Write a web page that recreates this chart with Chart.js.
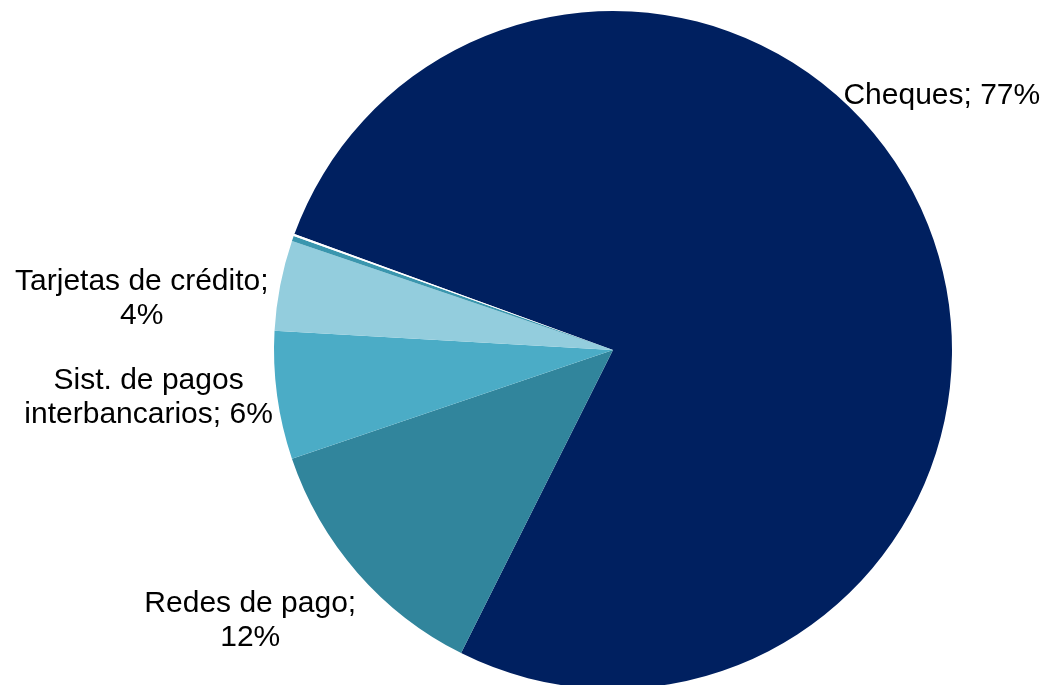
<!DOCTYPE html>
<html>
<head>
<meta charset="utf-8">
<script src="https://cdn.jsdelivr.net/npm/chart.js@4/dist/chart.umd.min.js"></script>
<style>
    html, body { margin: 0; padding: 0; background: #ffffff; }
    #wrap { width: 1047px; height: 685px; overflow: hidden; position: relative; }
    #wrap canvas { display: block; }
</style>
</head>
<body>
<div id="wrap"><canvas id="chart" width="1047" height="700"></canvas></div>
<script>
/* ---------- data ---------- */
const categories = ["Cheques", "Redes de pago", "Sist. de pagos interbancarios", "Tarjetas de crédito", "Otros", "Otros (2)"];
const shares     = [76.8, 12.4, 6.1, 4.3, 0.25, 0.1];
const colors     = ["#002060", "#31859C", "#4BACC6", "#93CDDD", "#3A96AE", "#FFFFFF"];
// texto de cada etiqueta, ya partido en líneas (null = sin etiqueta)
const labelLines = [
    ["Cheques; 77%"],
    ["Redes de pago;", "12%"],
    ["Sist. de pagos", "interbancarios; 6%"],
    ["Tarjetas de crédito;", "4%"],
    null,
    null
];

/* ---------- label placement (relative to pie centre, in radii) ---------- */
const labelOffsets = [
    [0.97, -0.75],
    [-1.07, 0.80],
    [-1.37, 0.14],
    [-1.39, -0.15],
    null,
    null
];

const FONT = '30px "Liberation Sans", Arial, sans-serif';
const LINE_H = 34;

const sliceLabels = {
    id: "sliceLabels",
    afterDatasetsDraw(chart) {
        const ctx  = chart.ctx;
        const arcs = chart.getDatasetMeta(0).data;
        ctx.save();
        ctx.font = FONT;
        ctx.fillStyle = "#000000";
        ctx.textAlign = "center";
        ctx.textBaseline = "middle";
        arcs.forEach((arc, i) => {
            const lines = labelLines[i];
            const off   = labelOffsets[i];
            if (!lines || !off) return;
            const { x, y, outerRadius } = arc.getProps(["x", "y", "outerRadius"], true);
            const cx = x + off[0] * outerRadius;
            const cy = y + off[1] * outerRadius;
            const top = cy - (lines.length - 1) * LINE_H / 2;
            lines.forEach((t, k) => ctx.fillText(t, cx, top + k * LINE_H));
        });
        ctx.restore();
    }
};

new Chart(document.getElementById("chart"), {
    type: "pie",
    data: {
        labels: categories,
        datasets: [{
            data: shares,
            backgroundColor: colors,
            borderWidth: 0,
            hoverOffset: 0
        }]
    },
    options: {
        responsive: false,
        animation: false,
        rotation: 290,
        layout: { padding: { left: 179, right: 0, top: 11, bottom: 11 } },
        plugins: {
            legend:  { display: false },
            tooltip: { enabled: false }
        }
    },
    plugins: [sliceLabels]
});
</script>
</body>
</html>
